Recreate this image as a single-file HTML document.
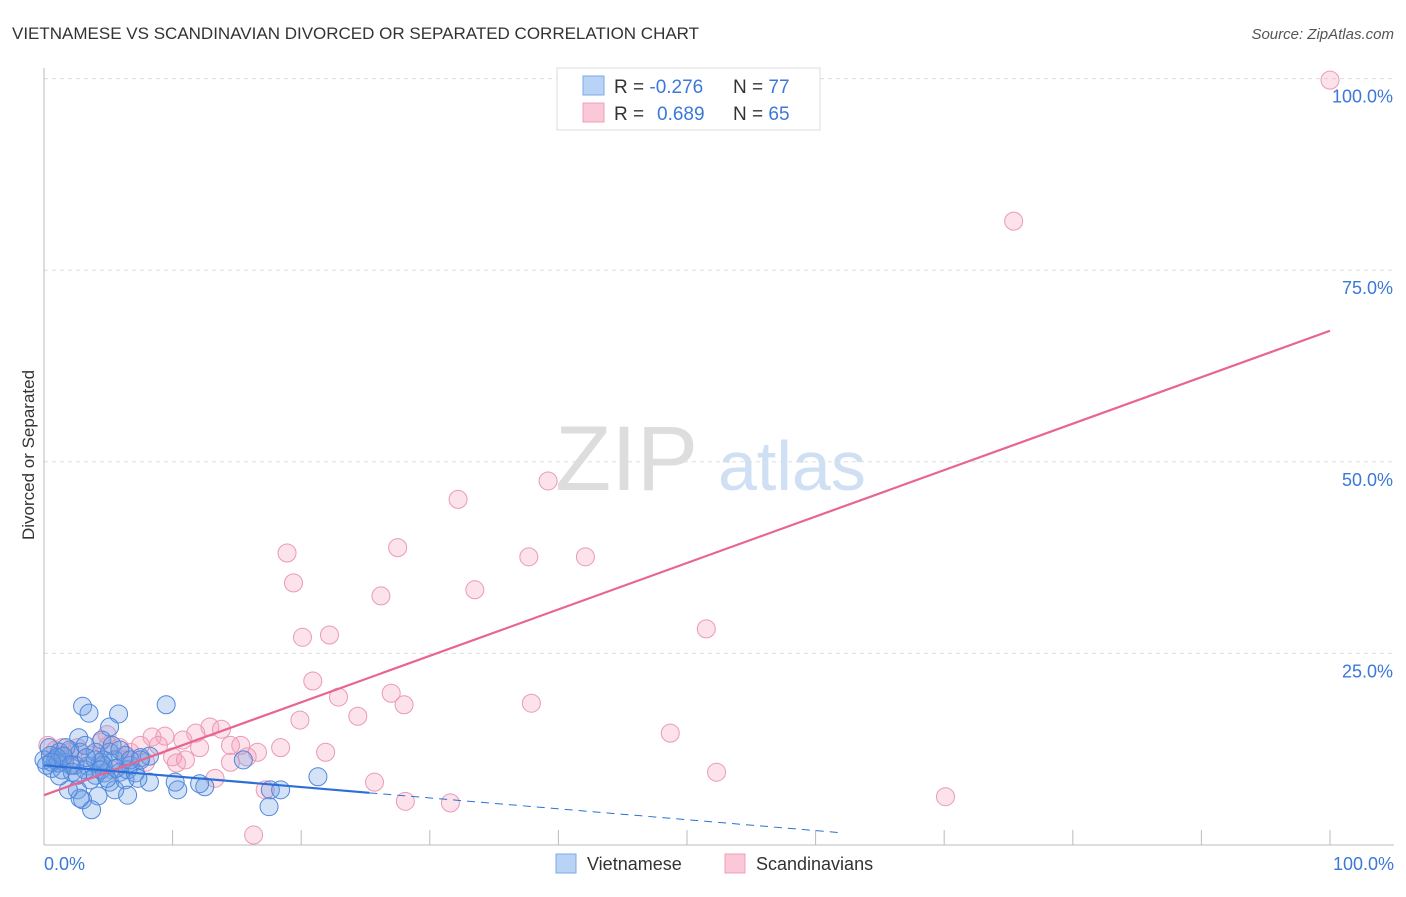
<!DOCTYPE html>
<html><head><meta charset="utf-8"><style>
body{margin:0;background:#fff;font-family:"Liberation Sans",sans-serif;}
svg text{font-family:"Liberation Sans",sans-serif;}
</style></head><body>
<svg id="chart" width="1406" height="892" xmlns="http://www.w3.org/2000/svg">
<text x="12" y="39" font-size="17" fill="#333">VIETNAMESE VS SCANDINAVIAN DIVORCED OR SEPARATED CORRELATION CHART</text>
<text x="1394" y="39" font-size="15" fill="#555" font-style="italic" text-anchor="end">Source: ZipAtlas.com</text>
<text x="34" y="455" font-size="17" fill="#333" text-anchor="middle" transform="rotate(-90 34 455)">Divorced or Separated</text>
<text x="555" y="490" font-size="92" fill="#ddd" font-family="Liberation Serif">ZIP</text>
<text x="718" y="490" font-size="70" fill="#cfe0f5">atlas</text>
<g id="grid"></g>
<g id="axes"></g>
<g id="pts"></g>
<g id="lines"></g>
<g>
<rect x="557" y="68" width="263" height="62" fill="#fff" stroke="#ddd"/>
<rect x="583" y="76" width="21" height="19" fill="#b8d3f5" stroke="#7faae6"/>
<rect x="583" y="103" width="21" height="19" fill="#fac8d6" stroke="#eea0b8"/>
<text x="614" y="93" font-size="19" fill="#333">R = <tspan fill="#3b78d8">-0.276</tspan></text>
<text x="733" y="93" font-size="19" fill="#333">N = <tspan fill="#3b78d8">77</tspan></text>
<text x="614" y="120" font-size="19" fill="#333">R = <tspan fill="#3b78d8" x="657">0.689</tspan></text>
<text x="733" y="120" font-size="19" fill="#333">N = <tspan fill="#3b78d8">65</tspan></text>
</g>
<g>
<rect x="556" y="854" width="20" height="19" fill="#b8d3f5" stroke="#7faae6"/>
<text x="587" y="870" font-size="18" fill="#333">Vietnamese</text>
<rect x="725" y="854" width="20" height="19" fill="#fac8d6" stroke="#eea0b8"/>
<text x="756" y="870" font-size="18" fill="#333">Scandinavians</text>
</g>
</svg>
<script>
const yTicks=[25,50,75,100];
const yTickLabels=["25.0%","50.0%","75.0%","100.0%"];
const xLabels=["0.0%","100.0%"];
const blueX=[3.0,3.5,5.8,9.5,5.1,2.7,4.5,0.4,1.2,2.0,2.8,4.0,5.1,6.3,7.5,8.2,0.9,1.6,2.4,3.4,4.4,5.5,6.7,0.6,1.4,2.2,3.2,4.0,4.7,5.9,6.5,0.0,0.5,3.6,5.1,6.3,8.2,10.2,10.4,12.5,17.6,18.4,15.5,2.6,3.0,4.2,3.7,2.8,1.9,1.1,1.7,7.1,7.5,5.3,4.6,1.0,0.2,21.3,4.6,12.1,4.0,3.2,1.5,5.9,4.4,2.6,3.3,5.5,6.5,2.1,4.9,0.6,1.2,7.3,5.6,6.7,17.5];
const blueY=[18.1,17.2,17.1,18.3,15.4,14.0,13.7,12.7,12.1,12.4,12.1,12.1,12.1,11.7,11.4,11.6,11.1,10.8,10.4,10.3,10.8,11.1,10.4,10.0,9.8,9.5,9.8,9.1,9.4,9.5,9.8,11.1,11.7,8.5,8.2,8.5,8.2,8.2,7.2,7.6,7.2,7.2,11.1,7.2,5.9,6.4,4.6,6.1,7.2,10.7,12.7,9.4,11.1,13.0,11.1,11.4,10.4,8.9,10.4,8.0,11.1,13.0,11.6,12.4,9.8,9.1,11.4,7.2,6.5,10.4,8.7,10.8,9.0,8.7,10.0,11.1,5.0];
const pinkX=[100,75.4,39.2,32.2,18.9,27.5,37.7,42.1,19.4,26.2,33.5,20.1,22.2,51.5,20.9,22.9,27.0,28.0,24.4,37.9,19.9,48.7,12.9,13.8,8.4,9.4,10.8,11.8,15.3,16.6,18.4,21.9,10.0,14.5,15.8,52.3,25.7,17.2,28.1,31.6,70.1,16.3,0.3,0.9,1.4,2.0,2.6,4.4,5.0,5.9,6.7,7.5,8.9,10.3,13.3,12.1,11.0,6.3,3.6,7.9,4.9,14.5,1.6,5.3,2.4];
const pinkY=[99.8,81.4,47.5,45.1,38.1,38.8,37.6,37.6,34.2,32.5,33.3,27.1,27.4,28.2,21.4,19.3,19.8,18.3,16.8,18.5,16.3,14.6,15.4,15.1,14.1,14.2,13.7,14.6,13.0,12.1,12.7,12.1,11.5,10.8,11.5,9.5,8.2,7.2,5.7,5.5,6.3,1.3,13.0,12.4,12.7,12.1,12.7,13.4,13.0,12.7,12.1,13.0,13.0,10.7,8.7,12.7,11.1,11.1,11.7,10.8,14.4,13.0,11.1,9.8,10.4];
const trendBlue=[10.4,-0.142];
const trendPink=[6.5,0.606];
const NS="http://www.w3.org/2000/svg";
const X=v=>44+v*12.86, Y=v=>845-v*7.664;
function mk(tag,attrs,parent){const e=document.createElementNS(NS,tag);for(const k in attrs)e.setAttribute(k,attrs[k]);document.getElementById(parent).appendChild(e);return e;}
yTicks.forEach((t,i)=>{
 const l=mk('line',{x1:44,x2:1394,y1:Y(t),y2:Y(t),stroke:'#ddd','stroke-dasharray':'4,4'},'grid');
 
 
 const tx=mk('text',{x:1393,y:Y(t)+24,'font-size':18,fill:'#3b78d8','text-anchor':'end'},'grid');
 tx.textContent=yTickLabels[i];
 
 
});
let a=mk('line',{x1:44,x2:44,y1:68,y2:845,stroke:'#bbb'},'axes');


a=mk('line',{x1:44,x2:1394,y1:845,y2:845,stroke:'#bbb'},'axes');


for(let v=10;v<=100;v+=10){const t=mk('line',{x1:X(v),x2:X(v),y1:830,y2:845,stroke:'#bbb'},'axes');
 
 }
[[0,'start',44],[100,'end',1394]].forEach((o,i)=>{const t=mk('text',{x:o[2],y:870,'font-size':18,fill:'#3b78d8','text-anchor':o[1]},'axes');t.textContent=xLabels[i];
 
 });
pinkX.forEach((x,i)=>{const c=mk('circle',{cx:X(x),cy:Y(pinkY[i]),r:9,fill:'rgba(244,160,188,0.3)',stroke:'#eb9ab4','stroke-width':1},'pts');
 
 });
blueX.forEach((x,i)=>{const c=mk('circle',{cx:X(x),cy:Y(blueY[i]),r:9,fill:'rgba(110,160,230,0.3)',stroke:'#4f86dc','stroke-width':1},'pts');
 
 });
let t=mk('line',{x1:X(0),y1:Y(trendPink[0]),x2:X(100),y2:Y(trendPink[0]+trendPink[1]*100),stroke:'#e8658f','stroke-width':2.2},'lines');


t=mk('line',{x1:X(0),y1:Y(trendBlue[0]),x2:X(25.3),y2:Y(trendBlue[0]+trendBlue[1]*25.3),stroke:'#2c6fd6','stroke-width':2.2},'lines');


t=mk('line',{x1:X(25.3),y1:Y(trendBlue[0]+trendBlue[1]*25.3),x2:X(62),y2:Y(trendBlue[0]+trendBlue[1]*62),stroke:'#2c6fd6','stroke-width':1,'stroke-dasharray':'8,6'},'lines');


</script>
</body></html>
